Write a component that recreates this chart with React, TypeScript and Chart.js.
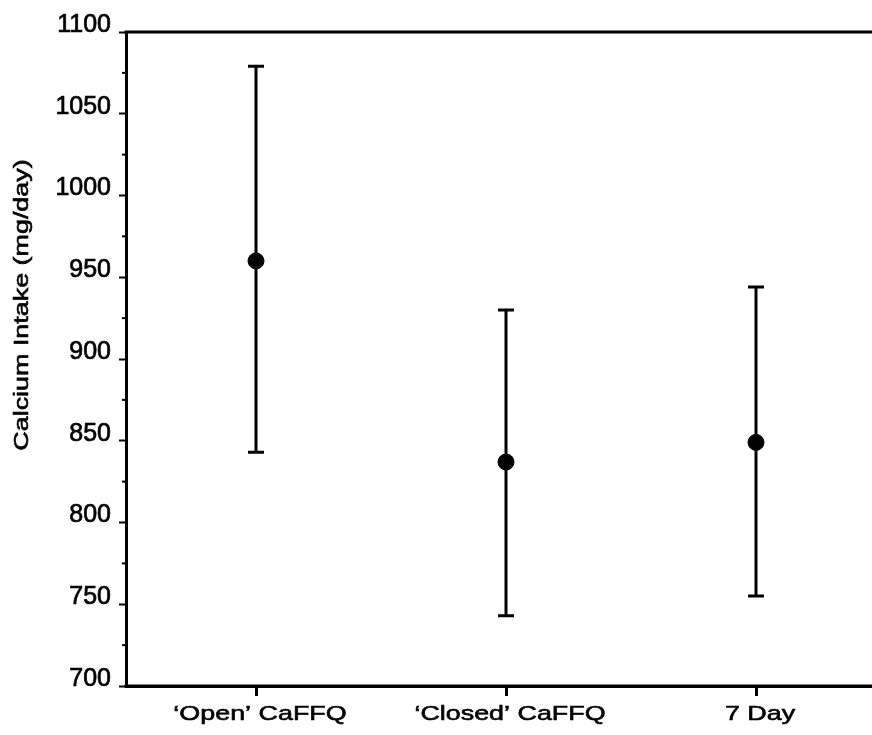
import React, { useEffect, useRef } from "react";
import { Chart, registerables } from "chart.js";

Chart.register(...registerables);

const categories = ["\u2018Open\u2019 CaFFQ", "\u2018Closed\u2019 CaFFQ", "7 Day"];
const means = [960, 837, 849];
const upper = [1079, 930, 944];
const lower = [843, 743, 755];
const yTicks = [700, 750, 800, 850, 900, 950, 1000, 1050, 1100];
const minorTicks = [725, 775, 825, 875, 925, 975, 1025, 1075];
const yTitle = "Calcium Intake (mg/day)";

const FONT = "'Liberation Sans', Arial, Helvetica, sans-serif";
const STRETCH = 1.28;

function stretchedText(ctx: any, text: string, x: number, y: number, angle: number) {
  ctx.save();
  ctx.translate(x, y);
  ctx.rotate(angle);
  ctx.scale(STRETCH, 1);
  ctx.lineWidth = 0.6;
  ctx.strokeStyle = "#000";
  ctx.strokeText(text, 0, 0);
  ctx.fillText(text, 0, 0);
  ctx.restore();
}

const decorPlugin = {
  id: "decor",
  afterDatasetsDraw(chart: any) {
    const ctx = chart.ctx;
    const x = chart.scales.x;
    const y = chart.scales.y;
    const area = chart.chartArea;
    ctx.save();
    ctx.strokeStyle = "#000";
    ctx.lineCap = "butt";
    // error bars
    ctx.lineWidth = 3;
    for (let i = 0; i < means.length; i++) {
      const px = x.getPixelForValue(i);
      const pu = y.getPixelForValue(upper[i]);
      const pl = y.getPixelForValue(lower[i]);
      ctx.beginPath();
      ctx.moveTo(px, pu);
      ctx.lineTo(px, pl);
      ctx.moveTo(px - 8, pu);
      ctx.lineTo(px + 8, pu);
      ctx.moveTo(px - 8, pl);
      ctx.lineTo(px + 8, pl);
      ctx.stroke();
    }
    // top and bottom borders to the right edge
    ctx.lineWidth = 3;
    ctx.beginPath();
    ctx.moveTo(area.left - 1.5, area.top);
    ctx.lineTo(chart.width, area.top);
    ctx.moveTo(area.left - 1.5, area.bottom);
    ctx.lineTo(chart.width, area.bottom);
    ctx.stroke();
    // minor ticks
    ctx.lineWidth = 2;
    for (const v of minorTicks) {
      const py = y.getPixelForValue(v);
      ctx.beginPath();
      ctx.moveTo(area.left - 4, py);
      ctx.lineTo(area.left, py);
      ctx.stroke();
    }
    ctx.fillStyle = "#000";
    // x category labels
    ctx.font = `21px ${FONT}`;
    ctx.textAlign = "center";
    ctx.textBaseline = "alphabetic";
    categories.forEach((c, i) => {
      stretchedText(ctx, c, x.getPixelForValue(i) + 4, area.bottom + 34, 0);
    });
    // y title
    stretchedText(ctx, yTitle, 28, 305, -Math.PI / 2);
    ctx.restore();
  },
};

export default function App() {
  const ref = useRef<HTMLCanvasElement>(null);
  useEffect(() => {
    document.body.style.margin = "0";
    const canvas = ref.current!;
    const chart = new Chart(canvas, {
      type: "scatter",
      data: {
        datasets: [
          {
            data: means.map((m, i) => ({ x: i, y: m })),
            backgroundColor: "#000",
            borderColor: "#000",
            pointRadius: 8,
            pointHoverRadius: 8,
          },
        ],
      },
      options: {
        animation: false,
        responsive: false,
        events: [],
        layout: { autoPadding: false, padding: { top: 32, left: 0, right: 0, bottom: 0 } },
        plugins: { legend: { display: false }, tooltip: { enabled: false } },
        scales: {
          x: {
            type: "linear",
            min: -0.52,
            max: 2.464,
            afterBuildTicks(scale: any) {
              scale.ticks = categories.map((_, i) => ({ value: i }));
            },
            afterFit(scale: any) {
              scale.height = 49;
              scale.paddingLeft = 0;
              scale.paddingRight = 0;
            },
            ticks: {
              callback: () => "",
              color: "rgba(0,0,0,0)",
              maxRotation: 0,
              autoSkip: false,
            },
            grid: {
              drawOnChartArea: false,
              tickLength: 10,
              tickWidth: 3,
              tickColor: "#000",
            },
            border: { display: true, color: "#000", width: 3 },
          },
          y: {
            type: "linear",
            min: 700,
            max: 1100,
            afterBuildTicks(scale: any) {
              scale.ticks = yTicks.map((v) => ({ value: v }));
            },
            afterFit(scale: any) {
              scale.width = 126;
              scale.paddingTop = 0;
              scale.paddingBottom = 0;
            },
            ticks: {
              callback: (v: any) => String(v),
              font: { size: 25, family: FONT },
              color: "#000",
              textStrokeColor: "#000",
              textStrokeWidth: 0.7,
              padding: 8,
              labelOffset: -7,
            },
            grid: {
              drawOnChartArea: false,
              tickLength: 7,
              tickWidth: 2,
              tickColor: "#000",
            },
            border: { display: true, color: "#000", width: 3 },
          },
        },
      },
      plugins: [decorPlugin],
    });
    return () => chart.destroy();
  }, []);
  return <canvas ref={ref} width={872} height={735} style={{ display: "block" }} />;
}
